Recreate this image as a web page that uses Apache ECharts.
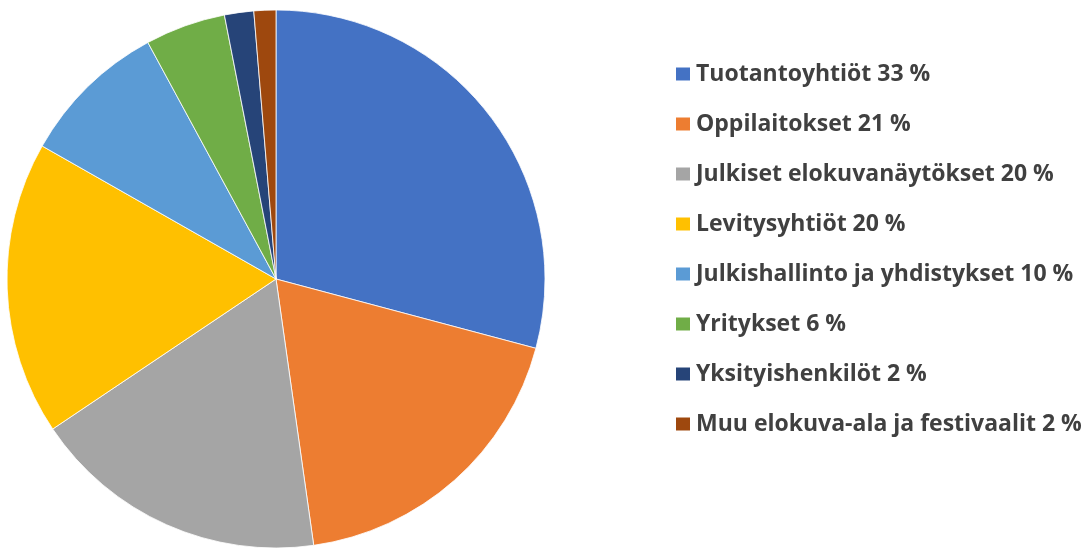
<!DOCTYPE html>
<html>
<head>
<meta charset="utf-8">
<script src="https://cdn.jsdelivr.net/npm/echarts@6/dist/echarts.min.js"></script>
<style>
  html, body { margin: 0; padding: 0; background: #fff; }
  #chart { width: 1092px; height: 548px; }
</style>
</head>
<body>
<div id="chart"></div>
<script>
// legend labels as shown in the picture
var names = [
  "Tuotantoyhtiöt 33 %",
  "Oppilaitokset 21 %",
  "Julkiset elokuvanäytökset 20 %",
  "Levitysyhtiöt 20 %",
  "Julkishallinto ja yhdistykset 10 %",
  "Yritykset 6 %",
  "Yksityishenkilöt 2 %",
  "Muu elokuva-ala ja festivaalit 2 %"
];
// slice sizes
var values = [33.2, 21.2, 20.3, 20.1, 10.1, 5.5, 2.0, 1.5];
var colors = ["#4472C4", "#ED7D31", "#A5A5A5", "#FFC000", "#5B9BD5", "#70AD47", "#264478", "#9E480E"];

var chart = echarts.init(document.getElementById("chart"));

var data = names.map(function (n, i) {
  return { name: n, value: values[i] };
});

chart.setOption({
  animation: false,
  color: colors,
  legend: {
    orient: "vertical",
    left: 674,
    top: 59,
    padding: 0,
    icon: "rect",
    itemWidth: 16,
    itemHeight: 15,
    itemGap: 20,
    data: names,
    textStyle: {
      fontFamily: "Open Sans",
      fontWeight: "bold",
      fontSize: 23,
      lineHeight: 30,
      color: "#404040"
    }
  },
  series: [
    {
      type: "pie",
      center: [276, 279],
      radius: 269,
      startAngle: 90,
      clockwise: true,
      label: { show: false },
      labelLine: { show: false },
      itemStyle: { borderColor: "#fff", borderWidth: 0.8 },
      emphasis: { disabled: true },
      data: data
    }
  ]
});
</script>
</body>
</html>
